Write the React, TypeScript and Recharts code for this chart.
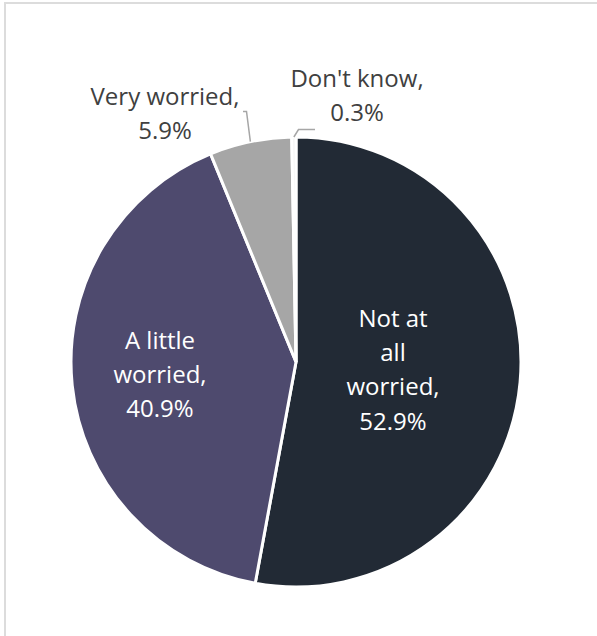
import { Cell, Pie, PieChart } from "recharts";

const CATEGORIES = ["Not at all worried", "A little worried", "Very worried", "Don't know"];
const SHARES = [52.9, 40.9, 5.9, 0.3];
const LABEL_LINES = [
  ["Not at", "all", "worried,", "52.9%"],
  ["A little", "worried,", "40.9%"],
  ["Very worried,", "5.9%"],
  ["Don't know,", "0.3%"],
];

const COLORS = ["#222a35", "#4e4a6e", "#a6a6a6", "#f2f2f2"];

// label placement relative to pie centre: dx = text centre, dy = first baseline
// leader = elbow + end of leader line (only for outside labels)
const LABEL_LAYOUT = [
  { dx: 97, dy: -35, color: "#ffffff" },
  { dx: -136, dy: -13, color: "#ffffff" },
  { dx: -131, dy: -257, color: "#404040", elbow: [-49.5, -250.5], end: [-53, -250.5] },
  { dx: 61, dy: -275, color: "#404040", elbow: [2.5, -232.5], end: [19, -232.5] },
];

const data = CATEGORIES.map((name, i) => ({ name, value: SHARES[i] }));

const FONT = "'Open Sans', sans-serif";
const LINE_HEIGHT = 34.2;
const RAD = Math.PI / 180;

function SliceLabel(props: any) {
  const { cx, cy, midAngle, outerRadius, index } = props;
  const layout = LABEL_LAYOUT[index];
  const lines = LABEL_LINES[index];
  const x = cx + layout.dx;
  const y0 = cy + layout.dy;
  let leader = null;
  if (layout.elbow && layout.end) {
    const sx = cx + outerRadius * Math.cos(-midAngle * RAD);
    const sy = cy + outerRadius * Math.sin(-midAngle * RAD);
    leader = (
      <polyline
        points={`${sx},${sy} ${cx + layout.elbow[0]},${cy + layout.elbow[1]} ${cx + layout.end[0]},${cy + layout.end[1]}`}
        fill="none"
        stroke="#a6a6a6"
        strokeWidth={1.5}
      />
    );
  }
  return (
    <g>
      {leader}
      <text x={x} y={y0} textAnchor="middle" fill={layout.color} fontFamily={FONT} fontSize={24}>
        {lines.map((line, i) => (
          <tspan key={i} x={x} y={y0 + i * LINE_HEIGHT}>
            {line}
          </tspan>
        ))}
      </text>
    </g>
  );
}

export default function App() {
  return (
    <div style={{ position: "fixed", left: 0, top: 0, width: 597, height: 636, background: "#ffffff", overflow: "hidden" }}>
      <div
        style={{
          position: "absolute",
          left: 4,
          top: 2,
          width: 640,
          height: 680,
          borderLeft: "2px solid #dcdcdc",
          borderTop: "2px solid #dcdcdc",
        }}
      />
      <div style={{ position: "absolute", left: 0, top: 0 }}>
        <PieChart width={597} height={636} margin={{ top: 0, right: 0, bottom: 0, left: 0 }}>
          <Pie
            data={data}
            dataKey="value"
            nameKey="name"
            cx={296}
            cy={362}
            outerRadius={225}
            startAngle={90}
            endAngle={-270}
            stroke="#ffffff"
            strokeWidth={3}
            label={SliceLabel}
            labelLine={false}
            isAnimationActive={false}
          >
            {data.map((d, i) => (
              <Cell key={d.name} fill={COLORS[i]} />
            ))}
          </Pie>
        </PieChart>
      </div>
    </div>
  );
}
